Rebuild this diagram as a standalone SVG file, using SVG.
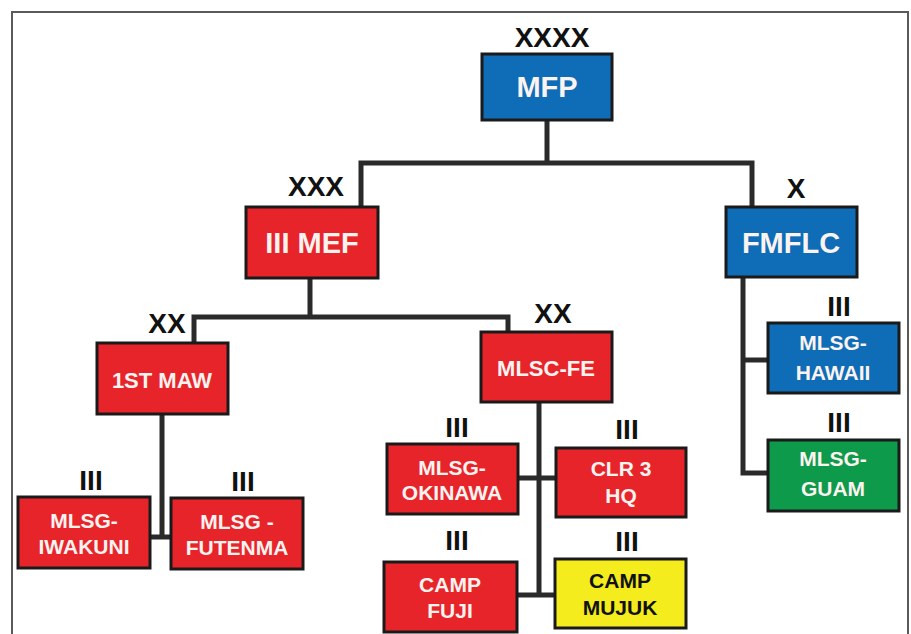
<svg xmlns="http://www.w3.org/2000/svg" width="911" height="634" viewBox="0 0 911 634">
<style>
.frame{fill:none;stroke:#5a5a5a;stroke-width:2}
.conn{fill:none;stroke:#2a2a2a;stroke-width:5;stroke-linejoin:miter}
.box{stroke:#1a1a1a;stroke-width:3}
.red{fill:#e8242b}
.blue{fill:#0f6cb6}
.green{fill:#0d9a4a}
.yellow{fill:#f4ec1c}
.t{font-family:"Liberation Sans",Arial,sans-serif;font-weight:bold;text-anchor:middle;fill:#fbf3f0}
.dark{fill:#111}
.lvl{font-family:"Liberation Sans",Arial,sans-serif;font-weight:bold;text-anchor:middle;fill:#111;font-size:28px}
.big{font-size:29px}
.mid{font-size:22px}
.sm{font-size:21px}
</style>
<rect width="911" height="634" fill="#ffffff"/>
<path class="frame" d="M12,634 V12 H908 V634"/>
<g id="connectors">
<path class="conn" d="M547,120 V163 M361,207 V163 H752 V207"/>
<path class="conn" d="M310,278 V317 M194,343 V317 H508 V332"/>
<path class="conn" d="M162,414 V537 M150,537 H172"/>
<path class="conn" d="M539,402 V595 M518,478 H556 M517,595 H555"/>
<path class="conn" d="M743,277 V473 H768 M743,360 H768"/>
</g>
<g id="mfp">
<text class="lvl" x="552" y="47">XXXX</text>
<rect class="box blue" x="482" y="54" width="130" height="66"/>
<text class="t big" x="547" y="97">MFP</text>
</g>
<g id="iii-mef">
<text class="lvl" x="316" y="196">XXX</text>
<rect class="box red" x="246" y="207" width="132" height="71"/>
<text class="t big" x="312" y="253">III MEF</text>
</g>
<g id="fmflc">
<text class="lvl" x="796" y="198">X</text>
<rect class="box blue" x="726" y="207" width="131" height="70"/>
<text class="t big" x="791" y="253">FMFLC</text>
</g>
<g id="first-maw">
<text class="lvl" x="167" y="333">XX</text>
<rect class="box red" x="97" y="343" width="131" height="71"/>
<text class="t mid" x="162" y="388">1ST MAW</text>
</g>
<g id="mlsc-fe">
<text class="lvl" x="553" y="323">XX</text>
<rect class="box red" x="481" y="332" width="131" height="70"/>
<text class="t mid" x="546" y="376">MLSC-FE</text>
</g>
<g id="mlsg-iwakuni">
<text class="lvl" x="91" y="490">III</text>
<rect class="box red" x="18" y="497" width="132" height="71"/>
<text class="t sm" x="84" y="528">MLSG-</text>
<text class="t sm" x="84" y="554">IWAKUNI</text>
</g>
<g id="mlsg-futenma">
<text class="lvl" x="243" y="491">III</text>
<rect class="box red" x="171" y="498" width="132" height="71"/>
<text class="t sm" x="237" y="529">MLSG -</text>
<text class="t sm" x="237" y="555">FUTENMA</text>
</g>
<g id="mlsg-okinawa">
<text class="lvl" x="457" y="437">III</text>
<rect class="box red" x="387" y="444" width="131" height="70"/>
<text class="t sm" x="452" y="475">MLSG-</text>
<text class="t sm" x="452" y="500">OKINAWA</text>
</g>
<g id="clr3-hq">
<text class="lvl" x="627" y="439">III</text>
<rect class="box red" x="556" y="448" width="130" height="69"/>
<text class="t sm" x="621" y="476">CLR 3</text>
<text class="t sm" x="621" y="503">HQ</text>
</g>
<g id="camp-fuji">
<text class="lvl" x="457" y="550">III</text>
<rect class="box red" x="384" y="562" width="133" height="70"/>
<text class="t sm" x="450" y="592">CAMP</text>
<text class="t sm" x="450" y="618">FUJI</text>
</g>
<g id="camp-mujuk">
<text class="lvl" x="627" y="551">III</text>
<rect class="box yellow" x="555" y="559" width="131" height="69"/>
<text class="t sm dark" x="620" y="588">CAMP</text>
<text class="t sm dark" x="620" y="615">MUJUK</text>
</g>
<g id="mlsg-hawaii">
<text class="lvl" x="839" y="316">III</text>
<rect class="box blue" x="768" y="323" width="131" height="70"/>
<text class="t sm" x="833" y="350">MLSG-</text>
<text class="t sm" x="833" y="380">HAWAII</text>
</g>
<g id="mlsg-guam">
<text class="lvl" x="839" y="432">III</text>
<rect class="box green" x="768" y="440" width="131" height="71"/>
<text class="t sm" x="833" y="466">MLSG-</text>
<text class="t sm" x="833" y="496">GUAM</text>
</g>
</svg>
